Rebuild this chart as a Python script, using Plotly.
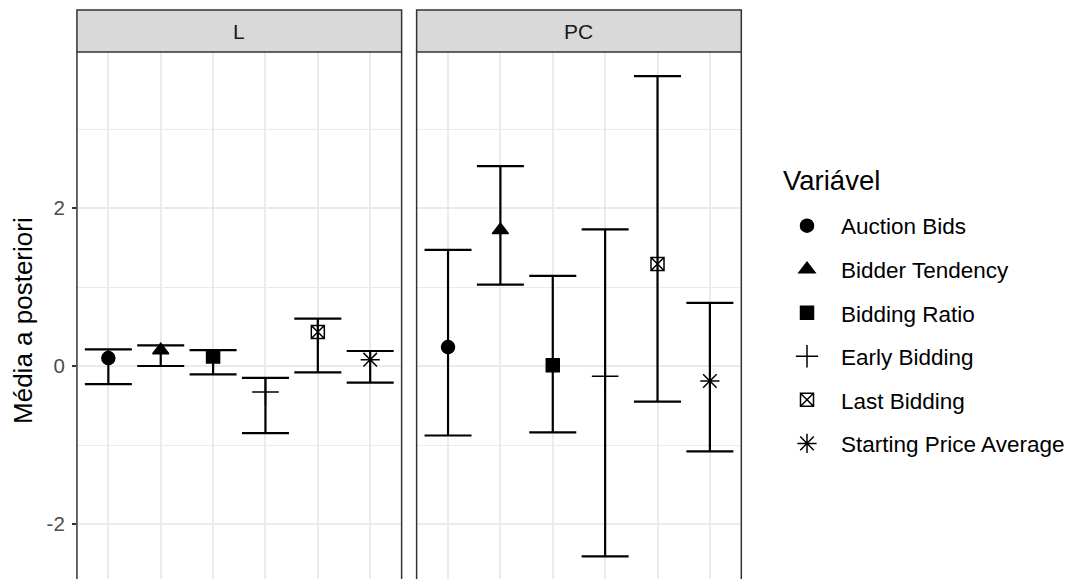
import plotly.graph_objects as go

# ---------------- data ----------------
variables = ["Auction Bids", "Bidder Tendency", "Bidding Ratio",
             "Early Bidding", "Last Bidding", "Starting Price Average"]
x_pos = [1, 2, 3, 4, 5, 6]
panels = ["L", "PC"]

L_mean = [0.10, 0.20, 0.12, -0.33, 0.43, 0.08]
L_lower = [-0.23, 0.00, -0.105, -0.85, -0.08, -0.21]
L_upper = [0.21, 0.26, 0.20, -0.15, 0.60, 0.19]

PC_mean = [0.24, 1.72, 0.01, -0.13, 1.29, -0.19]
PC_lower = [-0.88, 1.03, -0.84, -2.41, -0.45, -1.08]
PC_upper = [1.47, 2.53, 1.14, 1.73, 3.67, 0.80]

y_tick_vals = [-2, 0, 2]
y_tick_text = ["-2", "0", "2"]

legend_title = "Variável"
y_title = "Média a posteriori"

# ---------------- styles ----------------
W, H = 1070, 579
FONT = "Liberation Sans, Arial, sans-serif"
symbols = ["circle", "triangle-up", "square", "cross-thin-open",
           "square-x-open", "asterisk-open"]
sizes = [13, 14, 13, 19, 13, 16]

# panel pixel geometry
panel_x = [(77, 402), (417, 742)]
plot_top_px, strip_top_px = 52, 10


def px_x(p):
    return p / W


def px_y(p):
    return (H - p) / H


fig = go.Figure()

data_sets = [(L_mean, L_lower, L_upper), (PC_mean, PC_lower, PC_upper)]
for pi, (mean, lo, hi) in enumerate(data_sets):
    xa = "x" if pi == 0 else "x2"
    ya = "y" if pi == 0 else "y2"
    for i, v in enumerate(variables):
        fig.add_trace(go.Scatter(
            x=[x_pos[i]], y=[mean[i]],
            xaxis=xa, yaxis=ya,
            mode="markers",
            name=v, legendgroup=v, showlegend=(pi == 0),
            marker=dict(symbol=symbols[i], size=sizes[i], color="black",
                        line=dict(color="black", width=1.5)),
            error_y=dict(type="data", symmetric=False,
                         array=[hi[i] - mean[i]],
                         arrayminus=[mean[i] - lo[i]],
                         color="black", thickness=2.2, width=23.5),
        ))

y_range = [(366 - 579) / 79.0, (366 - 52) / 79.0]

axis_common = dict(range=[0.4, 6.6], showgrid=True, gridcolor="#EBEBEB",
                   gridwidth=1.5, tickvals=x_pos, showticklabels=False,
                   zeroline=False, showline=False, ticks="")
yaxis_common = dict(range=y_range, tickvals=y_tick_vals, ticktext=y_tick_text,
                    showgrid=True, gridcolor="#EBEBEB", gridwidth=1.5,
                    minor=dict(dtick=1, tick0=1, showgrid=True,
                               gridcolor="#EBEBEB", gridwidth=1.1),
                    zeroline=False, showline=False,
                    domain=[0, px_y(plot_top_px)])

fig.update_layout(
    width=W, height=H,
    margin=dict(l=0, r=0, t=0, b=0),
    paper_bgcolor="white", plot_bgcolor="white",
    font=dict(family=FONT, color="black"),
    xaxis=dict(domain=[px_x(panel_x[0][0]), px_x(panel_x[0][1])], **axis_common),
    xaxis2=dict(domain=[px_x(panel_x[1][0]), px_x(panel_x[1][1])], anchor="y2",
                **axis_common),
    yaxis=dict(anchor="x", ticks="outside", ticklen=4, tickwidth=1.5,
               tickcolor="#333333", showticklabels=True, ticklabelstandoff=3,
               tickfont=dict(size=20.5, color="#4D4D4D", family=FONT),
               **yaxis_common),
    yaxis2=dict(anchor="x2", matches="y", showticklabels=False, ticks="",
                **yaxis_common),
    legend=dict(
        font=dict(size=22.5, family=FONT, color="black"),
        x=px_x(774), xanchor="left", y=px_y(204.5), yanchor="top",
        tracegroupgap=11.3, bgcolor="rgba(0,0,0,0)",
        itemwidth=58,
    ),
)

shapes = []
annotations = []
for pi, (x0, x1) in enumerate(panel_x):
    # strip
    shapes.append(dict(type="rect", xref="paper", yref="paper",
                       x0=px_x(x0), x1=px_x(x1), y0=px_y(plot_top_px),
                       y1=px_y(strip_top_px), fillcolor="#D9D9D9",
                       line=dict(color="#333333", width=1.5), layer="above"))
    annotations.append(dict(xref="paper", yref="paper",
                            x=(px_x(x0) + px_x(x1)) / 2,
                            y=(px_y(plot_top_px) + px_y(strip_top_px)) / 2,
                            text=panels[pi], showarrow=False,
                            xanchor="center", yanchor="middle",
                            font=dict(size=21, color="#1A1A1A", family=FONT)))
    # panel borders (left, right)
    for xx in (x0, x1):
        shapes.append(dict(type="line", xref="paper", yref="paper",
                           x0=px_x(xx), x1=px_x(xx), y0=0,
                           y1=px_y(plot_top_px),
                           line=dict(color="#333333", width=1.5),
                           layer="above"))

annotations.append(dict(xref="paper", yref="paper", x=px_x(23), y=px_y(320),
                        text=y_title, showarrow=False,
                        textangle=-90, xanchor="center", yanchor="middle",
                        font=dict(size=26, color="black", family=FONT)))
annotations.append(dict(xref="paper", yref="paper", x=px_x(782), y=px_y(180),
                        text=legend_title, showarrow=False,
                        xanchor="left", yanchor="middle",
                        font=dict(size=27.5, color="black", family=FONT)))

fig.update_layout(shapes=shapes, annotations=annotations)

fig.write_html("out.html")
